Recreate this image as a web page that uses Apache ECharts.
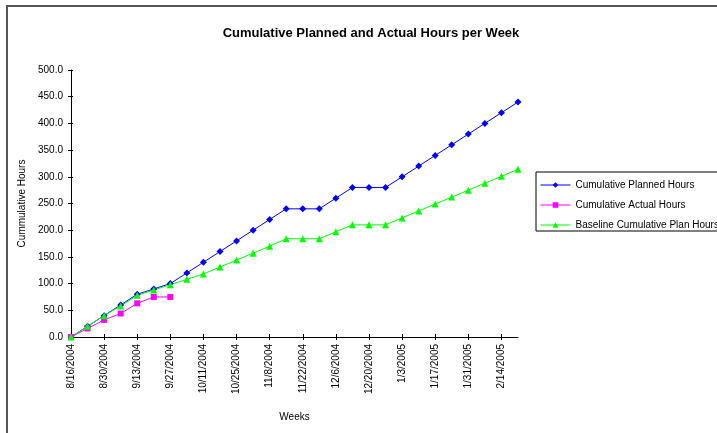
<!DOCTYPE html>
<html>
<head>
<meta charset="utf-8">
<script src="https://cdn.jsdelivr.net/npm/echarts@6/dist/echarts.min.js"></script>
<style>
html,body{margin:0;padding:0;background:#fff;}
#c{width:717px;height:433px;}
</style>
</head>
<body>
<div id="c"></div>
<script>
var weeks = ['8/16/2004','8/23/2004','8/30/2004','9/6/2004','9/13/2004','9/20/2004','9/27/2004','10/4/2004','10/11/2004','10/18/2004','10/25/2004','11/1/2004','11/8/2004','11/15/2004','11/22/2004','11/29/2004','12/6/2004','12/13/2004','12/20/2004','12/27/2004','1/3/2005','1/10/2005','1/17/2005','1/24/2005','1/31/2005','2/7/2005','2/14/2005','2/21/2005'];
var plannedHours = [0,20,40,60,80,90,100,120,140,160,180,200,220,240,240,240,260,280,280,280,300,320,340,360,380,400,420,440];
var actualHours = [0,16,32,44,63,75,75,null,null,null,null,null,null,null,null,null,null,null,null,null,null,null,null,null,null,null,null,null];
var baselineHours = [0,20,40,58,78,88,98,108,118,131,144,157,170,184,184,184,197,210,210,210,223,236,249,262,275,288,301,314];
var yTicks = {min:0, max:500, interval:50};

var font = 'Liberation Sans, Arial, sans-serif';
var chart = echarts.init(document.getElementById('c'));
chart.setOption({
  backgroundColor:'#fff',
  animation:false,
  textStyle:{fontFamily:font},
  title:{
    text:'Cumulative Planned and Actual Hours per Week',
    left:366, top:22, textAlign:'center',
    textStyle:{fontFamily:font,fontSize:13,fontWeight:'bold',color:'#000'}
  },
  graphic:[{
    type:'rect', shape:{x:7,y:6,width:800,height:500},
    style:{fill:'none',stroke:'#555',lineWidth:2}, silent:true
  }],
  legend:{
    orient:'vertical', left:536, top:172,
    borderColor:'#000', borderWidth:1, padding:[8,40,1,4], itemGap:10,
    itemWidth:30, itemHeight:7,
    lineStyle:{width:1},
    textStyle:{fontFamily:font,fontSize:10,color:'#000'},
    data:['Cumulative Planned Hours','Cumulative Actual Hours','Baseline Cumulative Plan Hours']
  },
  grid:{left:71, right:199, top:70, bottom:96},
  xAxis:[{
    type:'category', data:weeks, boundaryGap:false,
    name:'Weeks', nameLocation:'middle', nameGap:75,
    nameTextStyle:{fontFamily:font,fontSize:10,color:'#000'},
    axisLine:{lineStyle:{color:'#000',width:1}},
    axisTick:{interval:1,length:3,lineStyle:{color:'#000'}},
    axisLabel:{interval:1,rotate:90,fontSize:10,color:'#000',fontFamily:font,margin:7},
    splitLine:{show:false}
  },{
    type:'category', data:weeks, boundaryGap:false, position:'bottom',
    axisLine:{show:false},
    axisTick:{interval:1,length:3,inside:true,lineStyle:{color:'#000'}},
    axisLabel:{show:false}, splitLine:{show:false}
  }],
  yAxis:[{
    type:'value', min:yTicks.min, max:yTicks.max, interval:yTicks.interval,
    name:'Cummulative Hours', nameLocation:'middle', nameGap:38,
    nameTextStyle:{fontFamily:font,fontSize:10,color:'#000'},
    axisLine:{show:true,lineStyle:{color:'#000',width:1}},
    axisTick:{show:true,length:3,lineStyle:{color:'#000'}},
    axisLabel:{fontSize:10,color:'#000',fontFamily:font,margin:8,formatter:function(v){return v.toFixed(1);}},
    splitLine:{show:false}
  },{
    type:'value', min:yTicks.min, max:yTicks.max, interval:yTicks.interval, position:'left',
    axisLine:{show:false},
    axisTick:{show:true,inside:true,length:2,lineStyle:{color:'#000'}},
    axisLabel:{show:false}, splitLine:{show:false}
  }],
  series:[{
    name:'Cumulative Planned Hours', type:'line', data:plannedHours,
    symbol:'diamond', symbolSize:7, showAllSymbol:true,
    itemStyle:{color:'#0000ff'}, lineStyle:{color:'#0000ff',width:1}
  },{
    name:'Cumulative Actual Hours', type:'line', data:actualHours,
    symbol:'rect', symbolSize:6, showAllSymbol:true,
    itemStyle:{color:'#ff00ff'}, lineStyle:{color:'#ff00ff',width:1}
  },{
    name:'Baseline Cumulative Plan Hours', type:'line', data:baselineHours,
    symbol:'triangle', symbolSize:7, showAllSymbol:true,
    itemStyle:{color:'#00ff00'}, lineStyle:{color:'#00ff00',width:1}
  }]
});
</script>
</body>
</html>
